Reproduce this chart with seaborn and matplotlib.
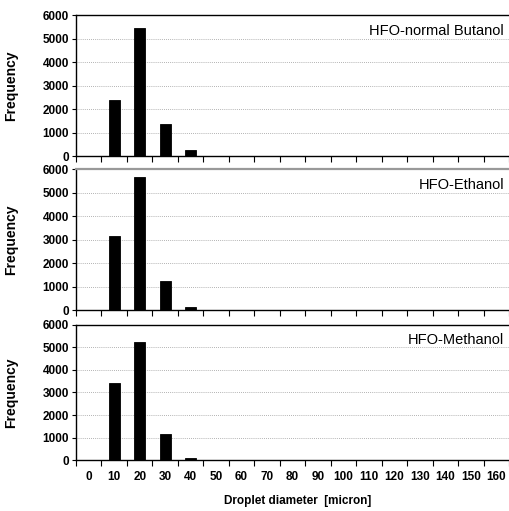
import matplotlib
matplotlib.use("Agg")
import matplotlib.pyplot as plt
import seaborn as sns
import pandas as pd
import numpy as np

# diametros (micron) e frequencias
diametro = [0, 10, 20, 30, 40, 50, 60, 70, 80, 90, 100, 110, 120, 130, 140, 150, 160]
butanol = [0, 2380, 5480, 1350, 270, 0, 0, 0, 0, 0, 0, 0, 0, 0, 0, 0, 0]
etanol = [0, 3180, 5680, 1230, 120, 0, 0, 0, 0, 0, 0, 0, 0, 0, 0, 0, 0]
metanol = [0, 3420, 5220, 1170, 90, 0, 0, 0, 0, 0, 0, 0, 0, 0, 0, 0, 0]
rotulos = ["HFO-normal Butanol", "HFO-Ethanol", "HFO-Methanol"]

sns.set_style("white")
plt.rcParams["font.family"] = ["Liberation Sans", "DejaVu Sans"]
plt.rcParams.update({"text.color": "black", "axes.labelcolor": "black",
                     "xtick.color": "black", "ytick.color": "black"})

fig = plt.figure(figsize=(5.09, 5.11), dpi=100)
posicoes = [
    [0.1493, 0.6947, 0.851, 0.275],
    [0.1493, 0.3933, 0.851, 0.275],
    [0.1493, 0.0992, 0.851, 0.2654],
]

for i, (serie, rotulo) in enumerate(zip([butanol, etanol, metanol], rotulos)):
    ax = fig.add_axes(posicoes[i])
    df = pd.DataFrame({"diametro": [str(d) for d in diametro], "freq": serie})
    sns.barplot(data=df, x="diametro", y="freq", color="black",
                width=0.42, edgecolor="black", linewidth=0.6, ax=ax)
    ax.set_xlim(-0.5, len(diametro) - 0.5)
    ax.set_ylim(0, 6000)
    ax.set_yticks(range(0, 6001, 1000))
    ax.yaxis.grid(True, linestyle=(0, (1, 1.5)), color="#9a9a9a", linewidth=0.6)
    ax.set_axisbelow(True)
    for lado in ["top", "left", "bottom"]:
        ax.spines[lado].set_visible(True)
        ax.spines[lado].set_color("black")
        ax.spines[lado].set_linewidth(1.0)
    ax.spines["right"].set_visible(False)
    if i == 1:
        ax.spines["top"].set_color("#999999")
        ax.spines["top"].set_linewidth(1.6)
    # ticks nas fronteiras das categorias
    ax.set_xticks(np.arange(-0.5, len(diametro), 1.0), minor=True)
    ax.tick_params(axis="x", which="minor", direction="out", length=4,
                   width=0.8, color="black", bottom=True)
    ax.tick_params(axis="x", which="major", length=0, pad=8)
    ax.tick_params(axis="y", direction="out", length=3, width=0.8,
                   color="black", left=True, pad=2)
    ax.set_xticks(range(len(diametro)))
    if i == 2:
        ax.set_xticklabels([str(d) for d in diametro], fontsize=8.5,
                           fontweight="bold")
    else:
        ax.set_xticklabels([])
    for t in ax.get_yticklabels():
        t.set_fontsize(8.5)
        t.set_fontweight("bold")
    ax.set_xlabel("")
    ax.set_ylabel("Frequency", fontsize=10, fontweight="bold")
    ax.yaxis.set_label_coords(-0.134, 0.5)
    ax.text(0.988, 0.89, rotulo, transform=ax.transAxes, ha="right",
            va="center", fontsize=10.5)

fig.text(0.585, 0.02, "Droplet diameter  [micron]", ha="center", va="center",
         fontsize=8.5, fontweight="bold")

fig.savefig("out.png", dpi=100)
